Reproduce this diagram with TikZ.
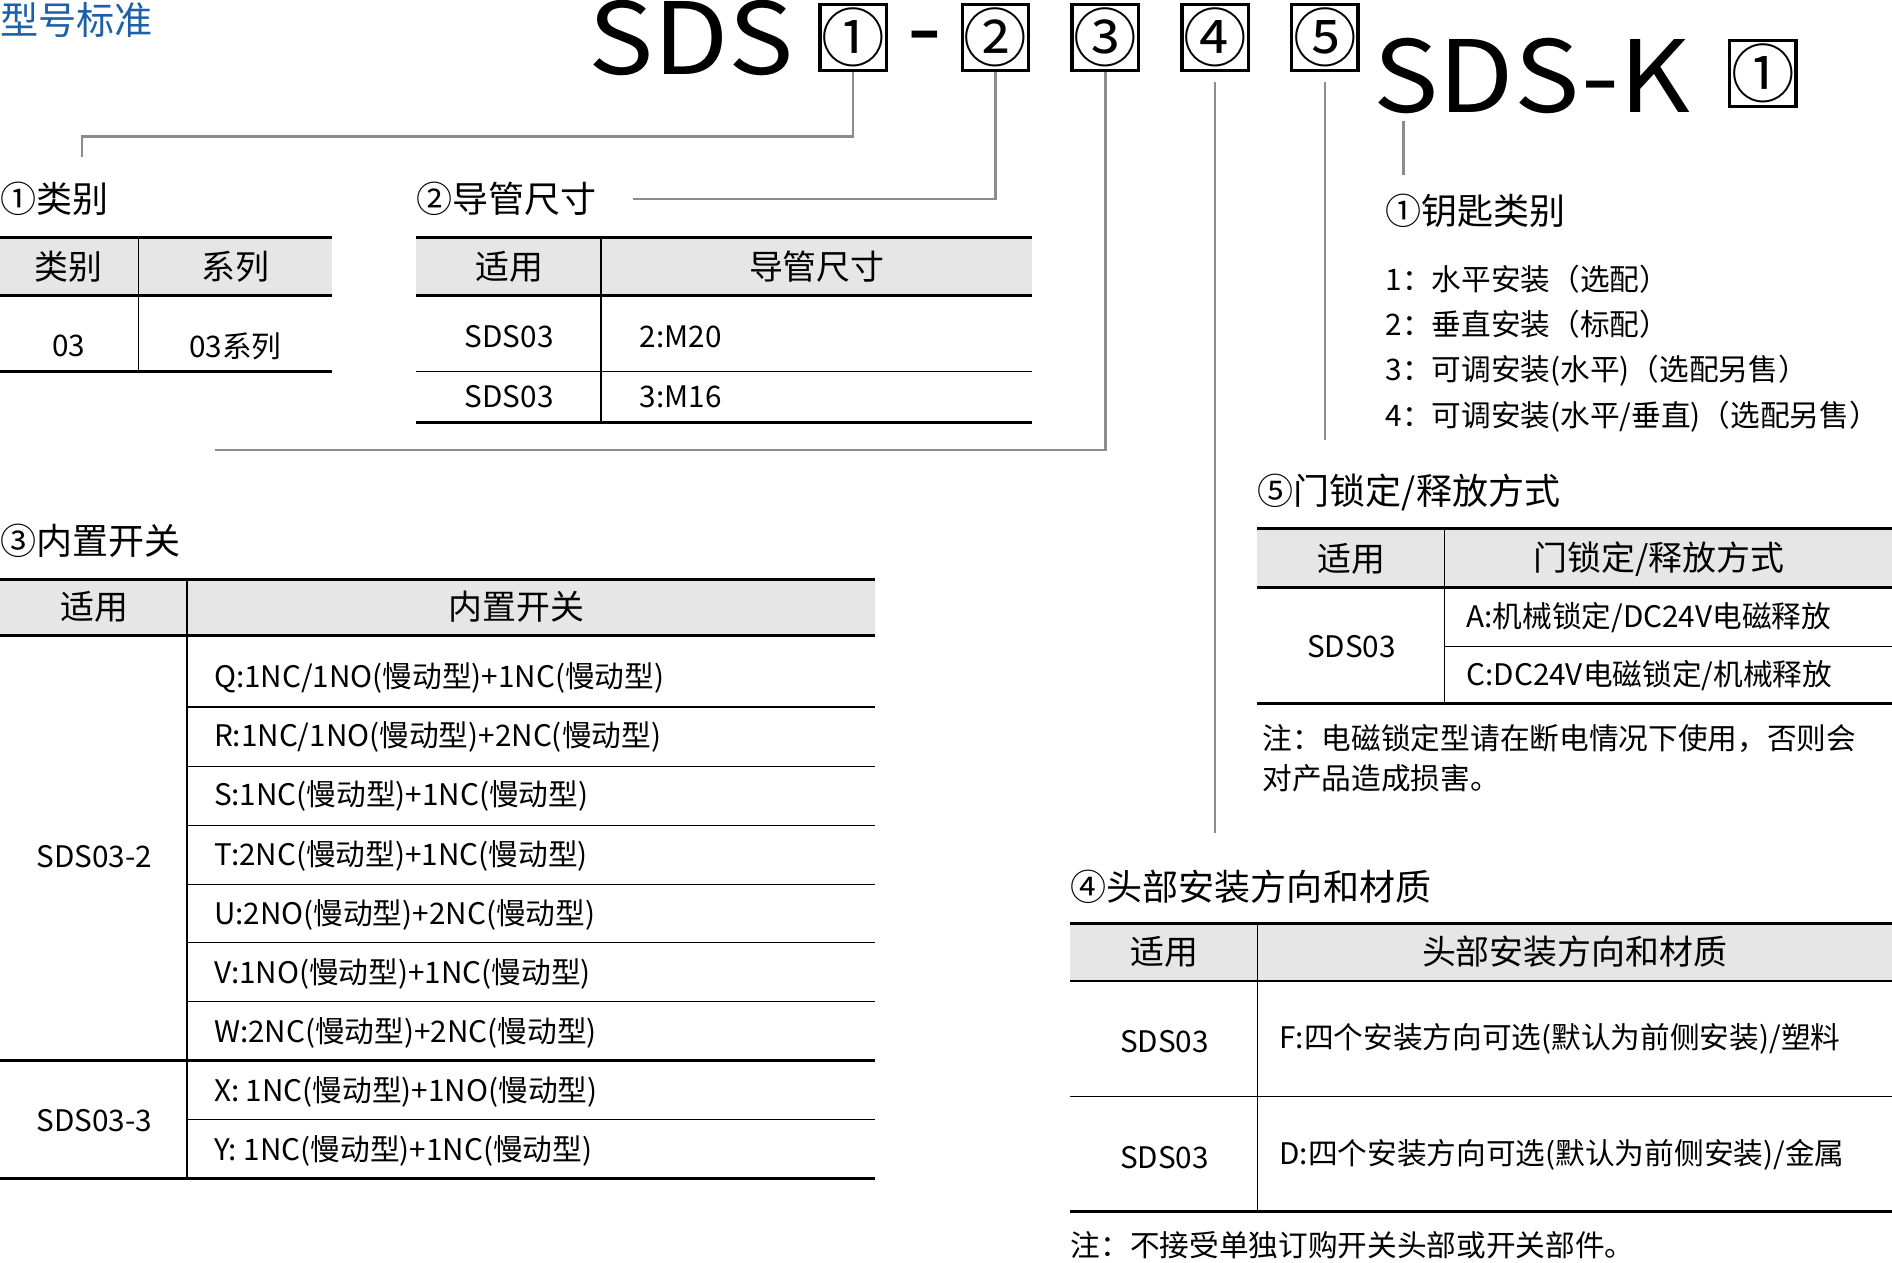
\documentclass[tikz,border=0pt]{standalone}
\usepackage{fontspec}
\setmainfont{Noto Sans CJK SC}
\usetikzlibrary{positioning}
\definecolor{titleblue}{HTML}{1F5FA8}
\definecolor{headgray}{HTML}{E6E6E6}
\definecolor{linkgray}{HTML}{8C8C8C}
\begin{document}
\begin{tikzpicture}[x=0.02cm, y=-0.02cm,
  big/.style={font=\fontsize{47}{50}\selectfont, inner sep=0pt},
  numbox/.style={draw, line width=1.6pt, minimum size=1.1cm, inner sep=0pt, font=\fontsize{30}{30}\selectfont},
  link/.style={linkgray, line width=1.2pt},
  caption/.style={anchor=west, inner sep=0pt, font=\fontsize{17}{20}\selectfont},
  head/.style={font=\fontsize{16}{18}\selectfont},
  cell/.style={font=\fontsize{14}{16}\selectfont},
  lcell/.style={cell, anchor=west, inner sep=0pt},
  rule/.style={line width=1.4pt},
  thin/.style={line width=0.6pt}]
  \useasboundingbox (0,0) rectangle (1568,1046);

  % title and code
  \node[anchor=north west, inner sep=0pt, titleblue, font=\fontsize{18}{20}\selectfont] (title) at (0,2) {型号标准};
  \node[big, anchor=base west, xscale=1.1] (sds) at (487,62) {SDS};
  \node[numbox] (b1) at (707,31) {①};
  \node[big, anchor=base] (dash) at (766,52) {-};
  \node[numbox] (b2) at (825,31) {②};
  \node[numbox] (b3) at (916,31) {③};
  \node[numbox] (b4) at (1007,31) {④};
  \node[numbox] (b5) at (1098,31) {⑤};
  \node[big, anchor=base west, xscale=1.1] (sdsk) at (1138,93) {SDS-K};
  \node[numbox] (k1) at (1461,61) {①};

  % connectors
  \coordinate (c1) at (68,130);
  \coordinate (c2) at (525,165);
  \coordinate (c3) at (178,373);
  \coordinate (c4) at (1007,690);
  \coordinate (c5) at (1098,365);
  \coordinate (ka) at (1163,100);
  \coordinate (kb) at (1163,145);
  \draw[link] (b1.south) |- (68,113) -- (c1);
  \draw[link] (b2.south) |- (c2);
  \draw[link] (b3.south) |- (c3);
  \draw[link] (b4.south) ++(0,8) -- (c4);
  \draw[link] (b5.south) ++(0,8) -- (c5);
  \draw[link] (ka) -- (kb);

  % table 1
  \node[caption] (cap1) at (0,165) {①类别};
  \fill[headgray] (0,197) rectangle (275,245);
  \draw[rule] (0,197) -- (275,197) (0,245) -- (275,245) (0,308) -- (275,308);
  \draw[thin] (115,197) -- (115,308);
  \node[head] at (57,221) {类别};
  \node[head] at (195,221) {系列};
  \node[cell] at (57,287) {03};
  \node[cell] at (195,287) {03系列};

  % table 2
  \node[caption] (cap2) at (345,165) {②导管尺寸};
  \fill[headgray] (345,197) rectangle (855,245);
  \draw[rule] (345,197) -- (855,197) (345,245) -- (855,245) (345,350) -- (855,350);
  \draw[thin] (345,308) -- (855,308) (498,197) -- (498,350);
  \node[head] at (422,221) {适用};
  \node[head] at (677,221) {导管尺寸};
  \node[cell] at (422,279) {SDS03};
  \node[cell] at (422,329) {SDS03};
  \node[lcell] at (530,279) {2:M20};
  \node[lcell] at (530,329) {3:M16};

  % table 3
  \node[caption] (cap3) at (0,448) {③内置开关};
  \fill[headgray] (0,480) rectangle (725,527);
  \draw[rule] (0,480) -- (725,480) (0,527) -- (725,527) (0,879) -- (725,879) (0,977) -- (725,977);
  \draw[thin] (155,480) -- (155,977);
  \foreach \y in {586,635,684,733,781,830,928}
    \draw[thin] (155,\y) -- (725,\y);
  \node[head] at (78,503) {适用};
  \node[head] at (428,503) {内置开关};
  \node[cell] at (78,710) {SDS03-2};
  \node[cell] at (78,929) {SDS03-3};
  \foreach \t [count=\i] in {Q:1NC/1NO(慢动型)+1NC(慢动型), R:1NC/1NO(慢动型)+2NC(慢动型),
      S:1NC(慢动型)+1NC(慢动型), T:2NC(慢动型)+1NC(慢动型), U:2NO(慢动型)+2NC(慢动型),
      V:1NO(慢动型)+1NC(慢动型), W:2NC(慢动型)+2NC(慢动型), X: 1NC(慢动型)+1NO(慢动型),
      Y: 1NC(慢动型)+1NC(慢动型)}
    \node[lcell] at (177,513+49*\i) {\t};

  % key list
  \node[caption] (capk) at (1148,175) {①钥匙类别};
  \node[lcell] at (1148,231) {1：水平安装（选配）};
  \node[lcell] at (1148,269) {2：垂直安装（标配）};
  \node[lcell] at (1148,307) {3：可调安装(水平)（选配另售）};
  \node[lcell] at (1148,345) {4：可调安装(水平/垂直)（选配另售）};

  % table 5
  \node[caption] (cap5) at (1042,408) {⑤门锁定/释放方式};
  \fill[headgray] (1042,438) rectangle (1568,487);
  \draw[rule] (1042,438) -- (1568,438) (1042,487) -- (1568,487) (1042,583) -- (1568,583);
  \draw[thin] (1197,536) -- (1568,536) (1197,438) -- (1197,583);
  \node[head] at (1120,463) {适用};
  \node[head] at (1375,463) {门锁定/释放方式};
  \node[cell] at (1120,536) {SDS03};
  \node[lcell] at (1215,512) {A:机械锁定/DC24V电磁释放};
  \node[lcell] at (1215,560) {C:DC24V电磁锁定/机械释放};
  \node[lcell] at (1046,612) {注：电磁锁定型请在断电情况下使用，否则会};
  \node[lcell] at (1046,645) {对产品造成损害。};

  % table 4
  \node[caption] (cap4) at (887,735) {④头部安装方向和材质};
  \fill[headgray] (887,765) rectangle (1568,813);
  \draw[rule] (887,765) -- (1568,765) (887,813) -- (1568,813) (887,1004) -- (1568,1004);
  \draw[thin] (887,909) -- (1568,909) (1042,765) -- (1042,1004);
  \node[head] at (965,789) {适用};
  \node[head] at (1305,789) {头部安装方向和材质};
  \node[cell] at (965,863) {SDS03};
  \node[cell] at (965,959) {SDS03};
  \node[lcell] at (1060,861) {F:四个安装方向可选(默认为前侧安装)/塑料};
  \node[lcell] at (1060,957) {D:四个安装方向可选(默认为前侧安装)/金属};
  \node[lcell] at (887,1032) {注：不接受单独订购开关头部或开关部件。};
\end{tikzpicture}
\end{document}
